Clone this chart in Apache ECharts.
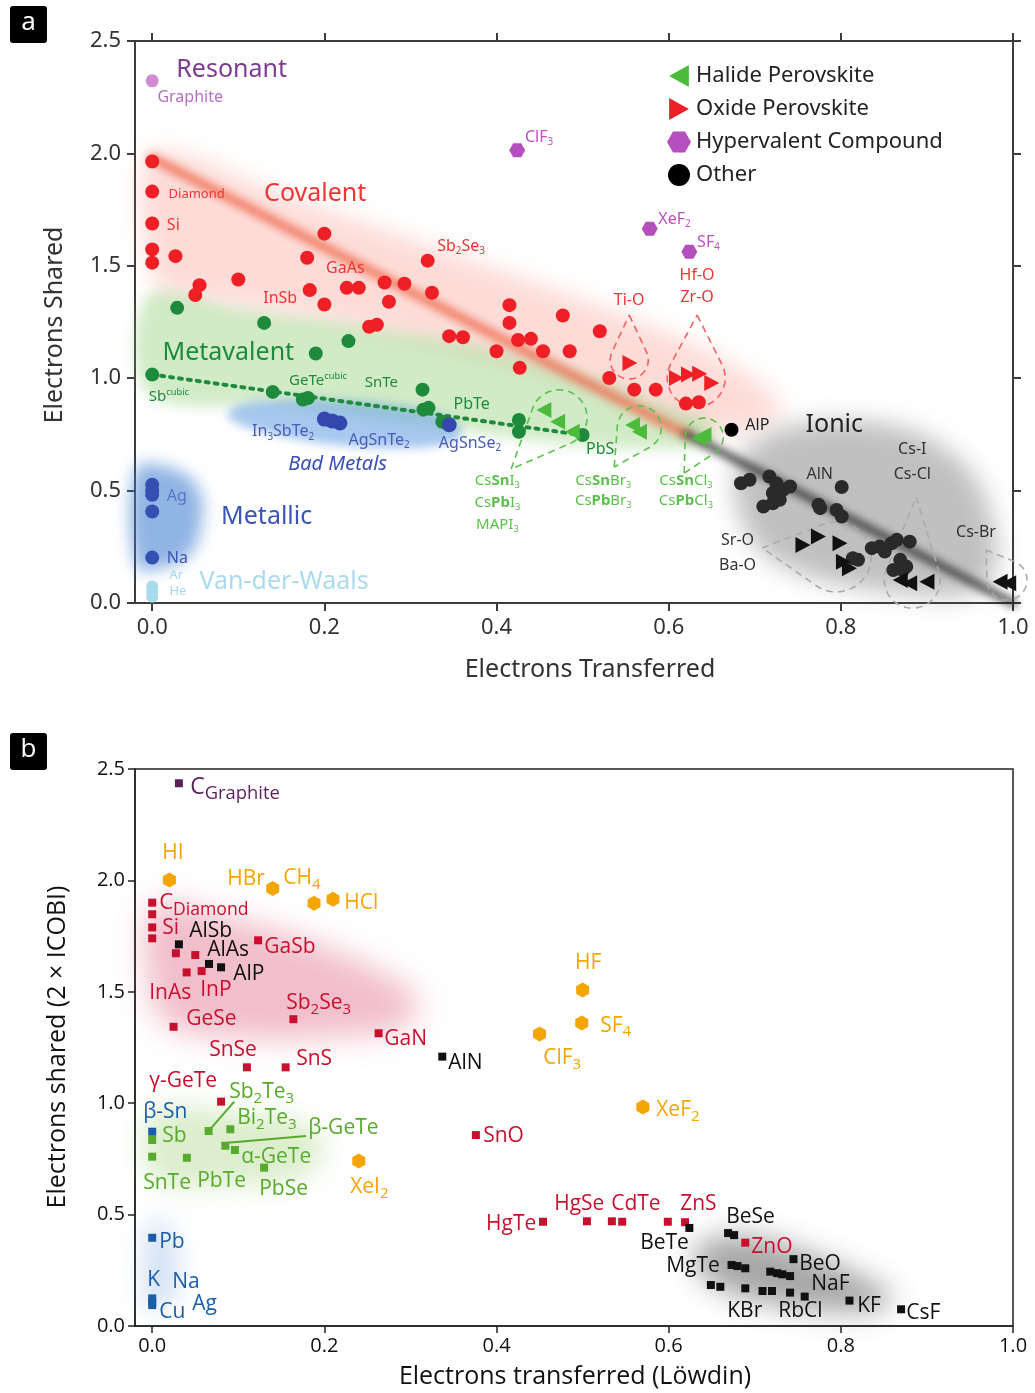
<!DOCTYPE html>
<html><head><meta charset="utf-8">
<script src="https://cdn.jsdelivr.net/npm/echarts@6/dist/echarts.min.js"></script>
<style>html,body{margin:0;padding:0;background:#fff}#c{width:1035px;height:1393px}</style>
</head><body><div id="c"></div>
<script>
// ---------- axis ticks ----------
const xTicks = [0, 0.2, 0.4, 0.6, 0.8, 1.0];

// ---------- panel a data ----------
const aGraphite = [[0.000, 2.323]];
const aHyper = [[0.424, 2.014], [0.578, 1.665], [0.624, 1.563]];
const aCovalent = [[0, 1.964], [0, 1.830], [0, 1.688], [0, 1.573], [0, 1.514], [0.027, 1.543], [0.200, 1.643], [0.180, 1.536],
  [0.055, 1.414], [0.050, 1.370], [0.100, 1.439], [0.183, 1.392], [0.200, 1.328], [0.226, 1.402], [0.240, 1.402], [0.270, 1.426],
  [0.293, 1.420], [0.275, 1.340], [0.320, 1.523], [0.325, 1.380], [0.252, 1.229], [0.261, 1.238], [0.415, 1.325], [0.415, 1.246],
  [0.477, 1.279], [0.345, 1.187], [0.361, 1.182], [0.425, 1.170], [0.440, 1.175], [0.400, 1.120], [0.454, 1.120], [0.485, 1.120],
  [0.427, 1.046], [0.520, 1.209], [0.531, 1.001], [0.560, 0.949], [0.585, 0.949], [0.620, 0.887], [0.635, 0.893]];
const aOxide = [[0.555, 1.068], [0.609, 1.001], [0.623, 1.016], [0.636, 1.020], [0.650, 0.979]];
const aMetavalent = [[0.029, 1.313], [0.130, 1.246], [0.228, 1.165], [0.000, 1.016], [0.190, 1.110], [0.140, 0.939], [0.175, 0.905],
  [0.181, 0.912], [0.314, 0.949], [0.315, 0.860], [0.321, 0.868], [0.337, 0.806], [0.426, 0.814], [0.426, 0.762], [0.500, 0.747]];
const aMetaTrend = [[0.000, 1.016], [0.500, 0.747]];
const aBadMetal = [[0.200, 0.818], [0.209, 0.810], [0.218, 0.801], [0.345, 0.793]];
const aMetallic = [[0, 0.526], [0, 0.500], [0, 0.481], [0, 0.407], [0, 0.202]];
const aVdw = [[0, 0.073], [0, 0.050], [0, 0.028]];
const aHalide = [[0.455, 0.859], [0.471, 0.806], [0.488, 0.762], [0.558, 0.792], [0.566, 0.762], [0.635, 0.733], [0.641, 0.747]];
const aOther = [[0.673, 0.771]];
const aIonic = [[0.684, 0.533], [0.694, 0.548], [0.717, 0.563], [0.725, 0.533], [0.721, 0.489], [0.733, 0.504], [0.741, 0.518],
  [0.710, 0.429], [0.721, 0.444], [0.729, 0.459], [0.801, 0.516], [0.774, 0.437], [0.776, 0.422], [0.795, 0.414], [0.801, 0.385],
  [0.814, 0.199], [0.820, 0.192], [0.836, 0.244], [0.845, 0.251], [0.851, 0.229], [0.859, 0.266], [0.865, 0.281], [0.880, 0.273],
  [0.869, 0.192], [0.876, 0.162], [0.861, 0.147], [0.872, 0.147]];
const aIonicOxide = [[0.756, 0.258], [0.774, 0.296], [0.799, 0.266], [0.803, 0.184], [0.810, 0.155]];
const aIonicHalide = [[0.869, 0.102], [0.880, 0.088], [0.900, 0.095], [0.985, 0.095], [0.995, 0.088]];

// ---------- panel b data ----------
const bGraphite = [[0.031, 2.436]];
const bHyper = [[0.020, 2.002], [0.140, 1.964], [0.188, 1.897], [0.210, 1.915], [0.500, 1.508], [0.499, 1.360], [0.450, 1.311],
  [0.570, 0.983], [0.240, 0.741]];
const bCovalent = [[0, 1.900], [0, 1.848], [0, 1.789], [0, 1.740], [0.0275, 1.673], [0.050, 1.665], [0.040, 1.587], [0.0574, 1.593],
  [0.123, 1.731], [0.0248, 1.343], [0.164, 1.377], [0.263, 1.314], [0.110, 1.161], [0.155, 1.161], [0.080, 1.007], [0.376, 0.857],
  [0.454, 0.468], [0.505, 0.470], [0.534, 0.470], [0.546, 0.468], [0.599, 0.468], [0.619, 0.466], [0.689, 0.374]];
const bIonic = [[0.031, 1.713], [0.066, 1.625], [0.080, 1.610], [0.337, 1.209], [0.624, 0.440], [0.669, 0.417], [0.676, 0.408],
  [0.745, 0.300], [0.673, 0.274], [0.680, 0.269], [0.689, 0.259], [0.718, 0.244], [0.726, 0.237], [0.732, 0.232], [0.741, 0.224],
  [0.649, 0.184], [0.660, 0.176], [0.689, 0.169], [0.709, 0.157], [0.720, 0.157], [0.741, 0.150], [0.758, 0.132], [0.810, 0.114],
  [0.870, 0.075]];
const bMetavalent = [[0, 0.835], [0.0655, 0.875], [0.0907, 0.883], [0.0849, 0.809], [0.0961, 0.790], [0, 0.760], [0.0403, 0.755],
  [0.130, 0.711]];
const bMetallic = [[0, 0.872], [0, 0.396], [0, 0.124], [0, 0.108], [0, 0.094]];
const bLeader1 = [[0.0654, 0.875], [0.0953, 1.007]];
const bLeader2 = [[0.081, 0.820], [0.1786, 0.853]];

// ---------- styling ----------
const FA = "'Noto Sans', 'DejaVu Sans', sans-serif";
const FB = "'Open Sans', 'Noto Sans', sans-serif";
const RED_A = '#ee1f25', RL = '#ee3535', PUR_A = '#b54fbd', GRN_A = '#1e8a3c', HAL = '#4cbb3c', BLU_A = '#3a4fb5';
const R = '#c8102e', O = '#f5a500', G2 = '#58aa2c', B = '#1b5ea8', K = '#111111', P = '#5b1f5e';

// annotation shapes (data coordinates)
const aRegions = [
  {pts: [[0.0, 2.0], [0.15, 1.82], [0.3, 1.62], [0.45, 1.42], [0.6, 1.2], [0.7, 1.0], [0.73, 0.85], [0.68, 0.76], [0.6, 0.8],
    [0.5, 0.97], [0.35, 1.13], [0.2, 1.26], [0.05, 1.36], [0.0, 1.45]], col: 'rgba(248,140,125,0.30)', blur: 22},
  {pts: [[-0.004, 1.37], [0.1, 1.31], [0.25, 1.23], [0.4, 1.13], [0.5, 1.02], [0.58, 0.9], [0.65, 0.8], [0.65, 0.71], [0.55, 0.69],
    [0.45, 0.72], [0.3, 0.8], [0.15, 0.88], [-0.004, 0.93]], col: 'rgba(140,205,115,0.40)', blur: 14},
  {pts: [[0.09, 0.86], [0.12, 0.895], [0.2, 0.905], [0.3, 0.87], [0.355, 0.8], [0.355, 0.73], [0.3, 0.69], [0.2, 0.71], [0.12, 0.77],
    [0.09, 0.82]], col: 'rgba(95,155,225,0.55)', blur: 10},
  {pts: [[-0.018, 0.6], [0.03, 0.59], [0.055, 0.5], [0.058, 0.37], [0.045, 0.22], [0.015, 0.16], [-0.018, 0.16]], col: 'rgba(70,130,210,0.6)', blur: 16},
  {pts: [[0.68, 0.62], [0.72, 0.76], [0.8, 0.81], [0.88, 0.77], [0.94, 0.63], [0.97, 0.45], [0.98, 0.15], [0.95, 0.04], [0.88, 0.04],
    [0.78, 0.1], [0.71, 0.22], [0.68, 0.42]], col: 'rgba(105,105,105,0.42)', blur: 24}
];
const aBands = [
  {pts: [[0.0, 1.98], [0.62, 0.752]], col: 'rgba(238,105,75,0.85)', w: 9, blur: 8},
  {pts: [[0.62, 0.752], [1.0, 0.0]], col: 'rgba(25,25,25,0.85)', w: 7, blur: 8}
];
const aDrops = [
  {c: [0.4726, 0.824], t: [0.4170, 0.596], r: 28, col: '#5cc04c'},
  {c: [0.5658, 0.779], t: [0.5367, 0.605], r: 22, col: '#5cc04c'},
  {c: [0.6413, 0.738], t: [0.6180, 0.578], r: 19, col: '#5cc04c'},
  {c: [0.5542, 1.081], t: [0.5542, 1.281], r: 19, col: '#f06060'},
  {c: [0.6320, 1.001], t: [0.6331, 1.281], r: 29, col: '#f06060'},
  {c: [0.7946, 0.205], t: [0.7086, 0.245], r: 35, col: '#aaaaaa'},
  {c: [0.8830, 0.102], t: [0.8876, 0.471], r: 28, col: '#aaaaaa'},
  {c: [0.9930, 0.102], t: [0.9686, 0.236], r: 20, col: '#aaaaaa'}
];
const bRegions = [
  {pts: [[0.0, 1.88], [0.08, 1.84], [0.18, 1.73], [0.27, 1.58], [0.31, 1.45], [0.29, 1.34], [0.22, 1.3], [0.12, 1.29], [0.03, 1.33],
    [0.0, 1.45]], col: 'rgba(225,110,140,0.45)', blur: 30},
  {pts: [[0.0, 0.96], [0.1, 0.96], [0.17, 0.92], [0.2, 0.82], [0.18, 0.68], [0.1, 0.63], [0.0, 0.66]], col: 'rgba(140,200,90,0.30)', blur: 26},
  {pts: [[-0.005, 0.46], [0.015, 0.46], [0.03, 0.33], [0.025, 0.12], [0.0, 0.07], [-0.01, 0.12]], col: 'rgba(110,160,220,0.30)', blur: 24},
  {pts: [[0.64, 0.38], [0.7, 0.4], [0.76, 0.33], [0.82, 0.23], [0.86, 0.13], [0.84, 0.07], [0.75, 0.08], [0.67, 0.15], [0.63, 0.27]],
    col: 'rgba(60,60,60,0.45)', blur: 28}
];

// text annotations
const aLabels = [
  {p: [0.028, 2.37], t: 'Resonant', c: '#7d3c91', s: 25},
  {p: [0.006, 2.247], t: 'Graphite', c: '#b56fc4', s: 16},
  {p: [0.433, 2.073], t: 'ClF_{3}', c: '#c04fc4', s: 16},
  {p: [0.130, 1.819], t: 'Covalent', c: RL, s: 25},
  {p: [0.019, 1.819], t: 'Diamond', c: RL, s: 13},
  {p: [0.017, 1.681], t: 'Si', c: RL, s: 16},
  {p: [0.331, 1.588], t: 'Sb_{2}Se_{3}', c: RL, s: 16},
  {p: [0.202, 1.490], t: 'GaAs', c: RL, s: 16},
  {p: [0.129, 1.357], t: 'InSb', c: RL, s: 16},
  {p: [0.588, 1.708], t: 'XeF_{2}', c: '#c04fc4', s: 16},
  {p: [0.633, 1.606], t: 'SF_{4}', c: '#c04fc4', s: 16},
  {p: [0.633, 1.459], t: 'Hf-O', c: RL, s: 16, a: 'center'},
  {p: [0.633, 1.361], t: 'Zr-O', c: RL, s: 16, a: 'center'},
  {p: [0.554, 1.348], t: 'Ti-O', c: RL, s: 16, a: 'center'},
  {p: [0.012, 1.112], t: 'Metavalent', c: GRN_A, s: 25},
  {p: [0.159, 0.988], t: 'GeTe^{cubic}', c: GRN_A, s: 15},
  {p: [0.247, 0.979], t: 'SnTe', c: GRN_A, s: 15},
  {p: [-0.004, 0.916], t: 'Sb^{cubic}', c: GRN_A, s: 15},
  {p: [0.350, 0.885], t: 'PbTe', c: GRN_A, s: 16},
  {p: [0.116, 0.761], t: 'In_{3}SbTe_{2}', c: '#4a5bb5', s: 16},
  {p: [0.228, 0.725], t: 'AgSnTe_{2}', c: '#4a5bb5', s: 16},
  {p: [0.333, 0.712], t: 'AgSnSe_{2}', c: '#4a5bb5', s: 16},
  {p: [0.158, 0.618], t: 'Bad Metals', c: BLU_A, s: 20, it: true},
  {p: [0.504, 0.681], t: 'PbS', c: GRN_A, s: 16},
  {p: [0.017, 0.472], t: 'Ag', c: '#5b74c6', s: 16},
  {p: [0.080, 0.383], t: 'Metallic', c: '#3a55b5', s: 25},
  {p: [0.017, 0.200], t: 'Na', c: '#3a55b5', s: 16},
  {p: [0.020, 0.125], t: 'Ar', c: '#a8d8ea', s: 13},
  {p: [0.020, 0.053], t: 'He', c: '#a8d8ea', s: 13},
  {p: [0.055, 0.093], t: 'Van-der-Waals', c: '#a9dbec', s: 25},
  {p: [0.401, 0.543], t: 'Cs*{Sn}I_{3}', c: '#5cc04c', s: 15, a: 'center'},
  {p: [0.401, 0.445], t: 'Cs*{Pb}I_{3}', c: '#5cc04c', s: 15, a: 'center'},
  {p: [0.401, 0.347], t: 'MAPI_{3}', c: '#5cc04c', s: 15, a: 'center'},
  {p: [0.524, 0.543], t: 'Cs*{Sn}Br_{3}', c: '#5cc04c', s: 15, a: 'center'},
  {p: [0.524, 0.454], t: 'Cs*{Pb}Br_{3}', c: '#5cc04c', s: 15, a: 'center'},
  {p: [0.620, 0.543], t: 'Cs*{Sn}Cl_{3}', c: '#5cc04c', s: 15, a: 'center'},
  {p: [0.620, 0.454], t: 'Cs*{Pb}Cl_{3}', c: '#5cc04c', s: 15, a: 'center'},
  {p: [0.689, 0.792], t: 'AlP', c: '#222', s: 16},
  {p: [0.759, 0.792], t: 'Ionic', c: '#222', s: 25},
  {p: [0.760, 0.574], t: 'AlN', c: '#333', s: 16},
  {p: [0.883, 0.681], t: 'Cs-I', c: '#333', s: 16, a: 'center'},
  {p: [0.883, 0.574], t: 'Cs-Cl', c: '#333', s: 16, a: 'center'},
  {p: [0.957, 0.316], t: 'Cs-Br', c: '#333', s: 16, a: 'center'},
  {p: [0.680, 0.280], t: 'Sr-O', c: '#333', s: 16, a: 'center'},
  {p: [0.680, 0.169], t: 'Ba-O', c: '#333', s: 16, a: 'center'}
];
const bLabels = [
  {p: [0.0441, 2.419], t: 'C_{Graphite}', c: P, s: 23, ss: 0.8},
  {p: [0.0116, 2.123], t: 'HI', c: O, s: 21},
  {p: [0.0871, 2.006], t: 'HBr', c: O, s: 21},
  {p: [0.1522, 2.011], t: 'CH_{4}', c: O, s: 21},
  {p: [0.2230, 1.899], t: 'HCl', c: O, s: 21},
  {p: [0.0081, 1.899], t: 'C_{Diamond}', c: R, s: 22, ss: 0.8},
  {p: [0.0116, 1.786], t: 'Si', c: R, s: 21},
  {p: [0.0430, 1.773], t: 'AlSb', c: K, s: 21},
  {p: [0.0639, 1.688], t: 'AlAs', c: K, s: 21},
  {p: [0.1301, 1.701], t: 'GaSb', c: R, s: 21},
  {p: [0.0941, 1.580], t: 'AlP', c: K, s: 21},
  {p: [-0.0035, 1.495], t: 'InAs', c: R, s: 21},
  {p: [0.0558, 1.508], t: 'InP', c: R, s: 21},
  {p: [0.1557, 1.450], t: 'Sb_{2}Se_{3}', c: R, s: 21},
  {p: [0.0395, 1.378], t: 'GeSe', c: R, s: 21},
  {p: [0.2695, 1.288], t: 'GaN', c: R, s: 21},
  {p: [0.3439, 1.180], t: 'AlN', c: K, s: 21},
  {p: [0.0662, 1.239], t: 'SnSe', c: R, s: 21},
  {p: [0.1673, 1.198], t: 'SnS', c: R, s: 21},
  {p: [0.5065, 1.629], t: 'HF', c: O, s: 21, a: 'center'},
  {p: [0.5204, 1.347], t: 'SF_{4}', c: O, s: 21},
  {p: [0.4542, 1.203], t: 'ClF_{3}', c: O, s: 21},
  {p: [0.5855, 0.969], t: 'XeF_{2}', c: O, s: 21},
  {p: [0.3845, 0.853], t: 'SnO', c: R, s: 21},
  {p: [-0.0035, 1.100], t: 'γ-GeTe', c: R, s: 21},
  {p: [0.0895, 1.050], t: 'Sb_{2}Te_{3}', c: G2, s: 21},
  {p: [-0.0105, 0.961], t: 'β-Sn', c: B, s: 21},
  {p: [0.0116, 0.853], t: 'Sb', c: G2, s: 21},
  {p: [0.0987, 0.934], t: 'Bi_{2}Te_{3}', c: G2, s: 21},
  {p: [0.1812, 0.889], t: 'β-GeTe', c: G2, s: 21},
  {p: [0.1034, 0.759], t: 'α-GeTe', c: G2, s: 21},
  {p: [-0.0105, 0.642], t: 'SnTe', c: G2, s: 21},
  {p: [0.0523, 0.651], t: 'PbTe', c: G2, s: 21},
  {p: [0.1243, 0.615], t: 'PbSe', c: G2, s: 21},
  {p: [0.2300, 0.624], t: 'XeI_{2}', c: O, s: 21},
  {p: [0.0081, 0.377], t: 'Pb', c: B, s: 21},
  {p: [-0.0058, 0.206], t: 'K', c: B, s: 21},
  {p: [0.0232, 0.197], t: 'Na', c: B, s: 21},
  {p: [0.0465, 0.099], t: 'Ag', c: B, s: 21},
  {p: [0.0081, 0.063], t: 'Cu', c: B, s: 21},
  {p: [0.4462, 0.458], t: 'HgTe', c: R, s: 21, a: 'right'},
  {p: [0.4670, 0.548], t: 'HgSe', c: R, s: 21},
  {p: [0.5332, 0.548], t: 'CdTe', c: R, s: 21},
  {p: [0.6134, 0.548], t: 'ZnS', c: R, s: 21},
  {p: [0.6668, 0.489], t: 'BeSe', c: K, s: 21},
  {p: [0.5669, 0.373], t: 'BeTe', c: K, s: 21},
  {p: [0.6959, 0.355], t: 'ZnO', c: R, s: 21},
  {p: [0.5971, 0.269], t: 'MgTe', c: K, s: 21},
  {p: [0.7516, 0.278], t: 'BeO', c: K, s: 21},
  {p: [0.7656, 0.189], t: 'NaF', c: K, s: 21},
  {p: [0.6680, 0.067], t: 'KBr', c: K, s: 21},
  {p: [0.7272, 0.067], t: 'RbCl', c: K, s: 21},
  {p: [0.8190, 0.090], t: 'KF', c: K, s: 21},
  {p: [0.8760, 0.058], t: 'CsF', c: K, s: 21}
];

// ---------- helpers ----------
const mctx = document.createElement('canvas').getContext('2d');
function tw(text, font) { mctx.font = font; return mctx.measureText(text).width; }
function parse(t) {
  const out = []; const re = /(_\{[^}]*\}|\^\{[^}]*\}|\*\{[^}]*\})/g; let last = 0, m;
  while ((m = re.exec(t))) {
    if (m.index > last) out.push({k: 'n', s: t.slice(last, m.index)});
    const tag = m[0][0]; const s = m[0].slice(2, -1);
    out.push({k: tag === '_' ? 'sub' : tag === '^' ? 'sup' : 'bold', s});
    last = re.lastIndex;
  }
  if (last < t.length) out.push({k: 'n', s: t.slice(last)});
  return out;
}
function labelRender(list, fam, defSS) {
  return function (params, api) {
    const L = list[params.dataIndex];
    const pt = api.coord(L.p);
    const ss = L.ss || defSS;
    let w = 0; const segs = [];
    parse(L.t).forEach(pp => {
      const small = pp.k === 'sub' || pp.k === 'sup';
      const size = small ? L.s * ss : L.s;
      const weight = pp.k === 'bold' ? 'bold' : 'normal';
      const font = (L.it ? 'italic ' : '') + weight + ' ' + size.toFixed(1) + 'px ' + fam;
      segs.push({s: pp.s, font, dx: w, dy: pp.k === 'sub' ? L.s * 0.3 : pp.k === 'sup' ? -L.s * 0.32 : 0});
      w += tw(pp.s, font);
    });
    const sx = L.a === 'center' ? pt[0] - w / 2 : L.a === 'right' ? pt[0] - w : pt[0];
    return {type: 'group', children: segs.map(sg => ({
      type: 'text', x: sx + sg.dx, y: pt[1] + sg.dy, silent: true,
      style: {text: sg.s, font: sg.font, fill: L.c, align: 'left', verticalAlign: 'middle'}}))};
  };
}
const OFF = 4000;
function regionRender(list) {
  return function (params, api) {
    const r = list[params.dataIndex];
    const pts = r.pts.map(p => { const c = api.coord(p); return [c[0], c[1] + OFF]; });
    return {type: 'polygon', silent: true, shape: {points: pts, smooth: 0.35},
      style: {fill: '#000', shadowBlur: r.blur, shadowColor: r.col, shadowOffsetX: 0, shadowOffsetY: -OFF}};
  };
}
function bandRender(list) {
  return function (params, api) {
    const r = list[params.dataIndex];
    const a = api.coord(r.pts[0]), b = api.coord(r.pts[1]);
    return {type: 'line', silent: true, shape: {x1: a[0], y1: a[1] + OFF, x2: b[0], y2: b[1] + OFF},
      style: {stroke: '#000', lineWidth: r.w, lineCap: 'round', shadowBlur: r.blur, shadowColor: r.col, shadowOffsetY: -OFF}};
  };
}
function dropRender(list) {
  return function (params, api) {
    const D = list[params.dataIndex];
    const c = api.coord(D.c), t = api.coord(D.t), r = D.r;
    const dx = t[0] - c[0], dy = t[1] - c[1]; const d = Math.hypot(dx, dy);
    const base = Math.atan2(dy, dx); const half = Math.acos(Math.min(1, r / d));
    const pts = [t];
    for (let k = 0; k <= 72; k++) {
      const a = base + half + (2 * Math.PI - 2 * half) * k / 72;
      pts.push([c[0] + r * Math.cos(a), c[1] + r * Math.sin(a)]);
    }
    pts.push(t);
    return {type: 'polyline', silent: true, shape: {points: pts},
      style: {stroke: D.col, lineWidth: 1.6, lineDash: [7, 5], fill: null}};
  };
}

// ---------- symbols ----------
const HEX_FLAT = 'path://M-10,0 L-5,-8.66 L5,-8.66 L10,0 L5,8.66 L-5,8.66 Z';
const HEX_POINT = 'path://M0,-10 L8.66,-5 L8.66,5 L0,10 L-8.66,5 L-8.66,-5 Z';
const TRI_L = 'path://M0,5 L9,0 L9,10 Z';
const TRI_R = 'path://M9,5 L0,0 L0,10 Z';

function sa(name, data, color, symbol, size, z) {
  return {type: 'scatter', name, xAxisIndex: 0, yAxisIndex: 0, data, symbol, symbolSize: size, z: z || 5,
    itemStyle: {color, opacity: 1}, emphasis: {disabled: true}, silent: true};
}
function sb(name, data, color, symbol, size) {
  return {type: 'scatter', name, xAxisIndex: 2, yAxisIndex: 2, data, symbol, symbolSize: size, z: 5,
    itemStyle: {color, opacity: 1}, emphasis: {disabled: true}, silent: true};
}
const fmt = v => v.toFixed(1);
const axA = {onZero: false, lineStyle: {color: '#3c3c3c', width: 2}};
const axB = {onZero: false, lineStyle: {color: '#222', width: 1.5}};
const tickA = {show: true, inside: false, length: 8, lineStyle: {color: '#3c3c3c', width: 2}};

const chart = echarts.init(document.getElementById('c'), null, {renderer: 'canvas', width: 1035, height: 1393});
chart.setOption({
  animation: false,
  backgroundColor: '#ffffff',
  grid: [
    {left: 135, top: 41, width: 878, height: 562, show: false},
    {left: 135, top: 769, width: 878, height: 557, show: true, borderColor: '#222', borderWidth: 1.5, backgroundColor: 'transparent'}
  ],
  xAxis: [
    {gridIndex: 0, type: 'value', min: -0.02, max: 1.0, position: 'bottom', axisLine: axA,
      axisTick: Object.assign({customValues: xTicks}, tickA),
      axisLabel: {customValues: xTicks, formatter: fmt, fontSize: 22, color: '#333', fontFamily: FA, margin: 14},
      splitLine: {show: false}},
    {gridIndex: 0, type: 'value', min: -0.02, max: 1.0, position: 'top', axisLine: axA,
      axisTick: Object.assign({customValues: xTicks}, tickA), axisLabel: {show: false}, splitLine: {show: false}},
    {gridIndex: 1, type: 'value', min: -0.02, max: 1.0, position: 'bottom', axisLine: axB,
      axisTick: {show: true, customValues: xTicks, length: 7, lineStyle: {color: '#222', width: 1.5}},
      axisLabel: {customValues: xTicks, formatter: fmt, fontSize: 20, color: '#111', fontFamily: FB, margin: 10},
      splitLine: {show: false}}
  ],
  yAxis: [
    {gridIndex: 0, type: 'value', min: 0, max: 2.5, interval: 0.5, position: 'left', axisLine: axA, axisTick: tickA,
      axisLabel: {formatter: fmt, fontSize: 22, color: '#333', fontFamily: FA, margin: 14}, splitLine: {show: false}},
    {gridIndex: 0, type: 'value', min: 0, max: 2.5, interval: 0.5, position: 'right', axisLine: axA, axisTick: tickA,
      axisLabel: {show: false}, splitLine: {show: false}},
    {gridIndex: 1, type: 'value', min: 0, max: 2.5, interval: 0.5, position: 'left', axisLine: axB,
      axisTick: {show: true, length: 7, lineStyle: {color: '#222', width: 1.5}},
      axisLabel: {formatter: fmt, fontSize: 20, color: '#111', fontFamily: FB, margin: 10}, splitLine: {show: false}}
  ],
  legend: {
    left: 662, top: 60, orient: 'vertical', itemGap: 11, itemWidth: 24, itemHeight: 22,
    textStyle: {fontSize: 22, color: '#222', fontFamily: FA}, selectedMode: false,
    data: [
      {name: 'Halide Perovskite', icon: TRI_L},
      {name: 'Oxide Perovskite', icon: TRI_R},
      {name: 'Hypervalent Compound', icon: HEX_FLAT},
      {name: 'Other', icon: 'circle'}
    ]
  },
  graphic: [
    {type: 'rect', left: 10, top: 6, shape: {width: 37, height: 37, r: 3}, style: {fill: '#000'}},
    {type: 'text', x: 28.5, y: 23, style: {text: 'a', fill: '#fff', font: '26px ' + FA, align: 'center', verticalAlign: 'middle'}},
    {type: 'rect', left: 10, top: 733, shape: {width: 37, height: 37, r: 3}, style: {fill: '#000'}},
    {type: 'text', x: 28.5, y: 750, style: {text: 'b', fill: '#fff', font: '26px ' + FB, align: 'center', verticalAlign: 'middle'}},
    {type: 'text', x: 55, y: 325, rotation: Math.PI / 2, style: {text: 'Electrons Shared', fill: '#333', font: '25px ' + FA, align: 'center', verticalAlign: 'middle'}},
    {type: 'text', x: 590, y: 670, style: {text: 'Electrons Transferred', fill: '#333', font: '25px ' + FA, align: 'center', verticalAlign: 'middle'}},
    {type: 'text', x: 58, y: 1047, rotation: Math.PI / 2, style: {text: 'Electrons shared (2 × ICOBI)', fill: '#111', font: '25px ' + FB, align: 'center', verticalAlign: 'middle'}},
    {type: 'text', x: 575, y: 1377, style: {text: 'Electrons transferred (Löwdin)', fill: '#111', font: '25px ' + FB, align: 'center', verticalAlign: 'middle'}}
  ],
  series: [
    // panel a decorations
    {type: 'custom', name: 'aRegions', xAxisIndex: 0, yAxisIndex: 0, z: 1, silent: true, data: aRegions.map(r => r.pts[0]), renderItem: regionRender(aRegions)},
    {type: 'custom', name: 'aBands', xAxisIndex: 0, yAxisIndex: 0, z: 2, silent: true, data: aBands.map(r => r.pts[0]), renderItem: bandRender(aBands)},
    {type: 'custom', name: 'aDrops', xAxisIndex: 0, yAxisIndex: 0, z: 3, silent: true, data: aDrops.map(r => r.c), renderItem: dropRender(aDrops)},
    {type: 'line', name: 'aTrend', xAxisIndex: 0, yAxisIndex: 0, z: 4, data: aMetaTrend, symbol: 'none', silent: true,
      lineStyle: {color: GRN_A, width: 4, type: [3, 6], cap: 'round'}},
    // panel a points
    sa('Graphite', aGraphite, '#d08cd0', 'circle', 13),
    sa('Hypervalent Compound', aHyper, PUR_A, HEX_FLAT, [16, 14]),
    sa('Covalent', aCovalent, RED_A, 'circle', 14),
    sa('Oxide Perovskite', aOxide, RED_A, TRI_R, [15, 16]),
    sa('Metavalent', aMetavalent, GRN_A, 'circle', 14),
    sa('BadMetal', aBadMetal, '#3447ad', 'circle', 15),
    sa('Metallic', aMetallic, '#3550b0', 'circle', 14),
    sa('Vdw', aVdw, '#a8dcec', 'circle', 12),
    sa('Halide Perovskite', aHalide, HAL, TRI_L, [15, 16]),
    sa('Ionic', aIonic, '#2a2a2a', 'circle', 14),
    sa('IonicOxide', aIonicOxide, '#111', TRI_R, [15, 16]),
    sa('IonicHalide', aIonicHalide, '#111', TRI_L, [15, 16]),
    sa('Other', aOther, '#000', 'circle', 14),
    {type: 'custom', name: 'aLabels', xAxisIndex: 0, yAxisIndex: 0, z: 8, silent: true, data: aLabels.map(l => l.p), renderItem: labelRender(aLabels, FA, 0.62)},
    // panel b decorations
    {type: 'custom', name: 'bRegions', xAxisIndex: 2, yAxisIndex: 2, z: 1, silent: true, data: bRegions.map(r => r.pts[0]), renderItem: regionRender(bRegions)},
    {type: 'line', name: 'bLead1', xAxisIndex: 2, yAxisIndex: 2, z: 4, data: bLeader1, symbol: 'none', silent: true, lineStyle: {color: G2, width: 2}},
    {type: 'line', name: 'bLead2', xAxisIndex: 2, yAxisIndex: 2, z: 4, data: bLeader2, symbol: 'none', silent: true, lineStyle: {color: G2, width: 2}},
    // panel b points
    sb('bGraphite', bGraphite, P, 'rect', 8),
    sb('bHyper', bHyper, O, HEX_POINT, [13, 15]),
    sb('bCovalent', bCovalent, R, 'rect', 8),
    sb('bIonic', bIonic, K, 'rect', 8),
    sb('bMetavalent', bMetavalent, G2, 'rect', 8),
    sb('bMetallic', bMetallic, B, 'rect', 8),
    {type: 'custom', name: 'bLabels', xAxisIndex: 2, yAxisIndex: 2, z: 8, silent: true, data: bLabels.map(l => l.p), renderItem: labelRender(bLabels, FB, 0.72)}
  ]
});
</script></body></html>
